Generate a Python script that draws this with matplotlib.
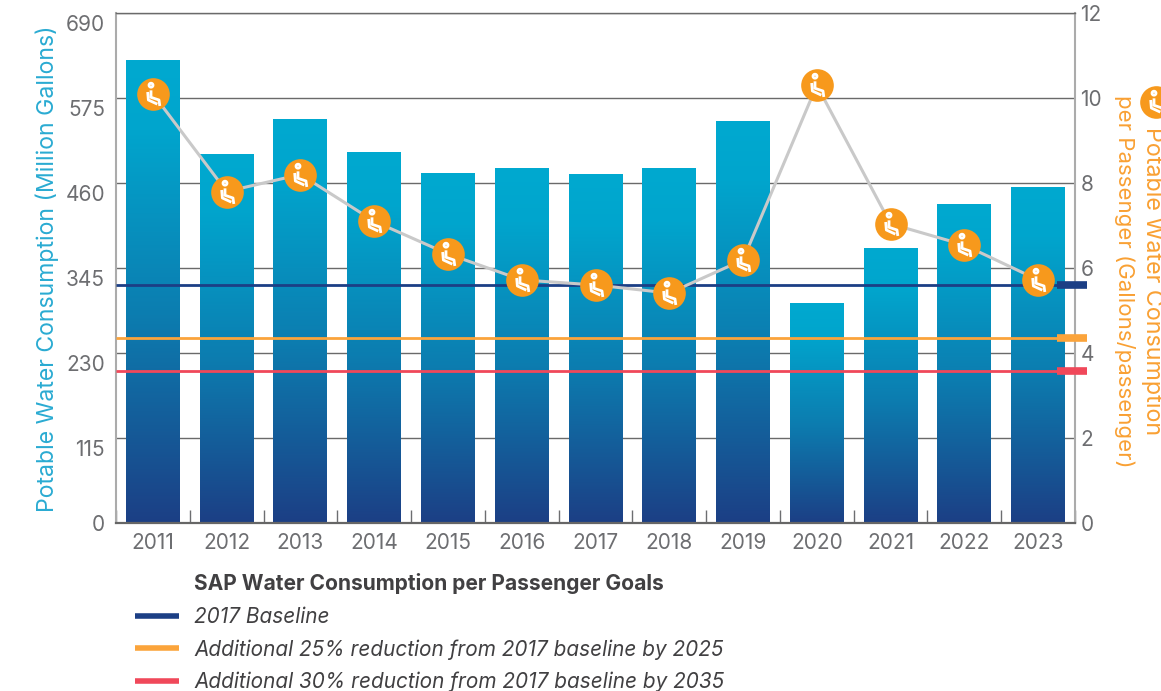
import numpy as np
import matplotlib
matplotlib.use("Agg")
import matplotlib.pyplot as plt
from matplotlib.colors import LinearSegmentedColormap
from matplotlib.lines import Line2D
from matplotlib.path import Path
from matplotlib.transforms import ScaledTranslation

plt.rcParams['font.family'] = ['Inter', 'DejaVu Sans']

# Values
years = ["2011", "2012", "2013", "2014", "2015", "2016", "2017", "2018", "2019", "2020", "2021", "2022", "2023"]
water_million_gal = [626, 499, 547, 502, 474, 480, 472, 480, 544, 298, 372, 432, 455]
gal_per_passenger = [10.1, 7.8, 8.2, 7.1, 6.33, 5.72, 5.6, 5.41, 6.19, 10.3, 7.04, 6.54, 5.72]
left_ticks = [0, 115, 230, 345, 460, 575, 690]
right_ticks = [0, 2, 4, 6, 8, 10, 12]
goal_values = [5.6, 4.35, 3.57]
goal_labels = ["2017 Baseline",
               "Additional 25% reduction from 2017 baseline by 2025",
               "Additional 30% reduction from 2017 baseline by 2035"]

BLUE = "#00A9D0"
NAVY = "#1C3F85"
ORANGE = "#F7991C"
GREY = "#6D6E71"
goal_colors = [NAVY, "#FBA43B", "#F0485A"]

# Passenger in a seat, in units of the circle radius
seat_verts = [(-0.15, 0.25), (-0.15, -0.17), (0.33, -0.33), (0.38, -0.69),
              (-0.35, 0.15), (-0.31, -0.33), (0.23, -0.58)]
seat_codes = [Path.MOVETO, Path.LINETO, Path.LINETO, Path.LINETO,
              Path.MOVETO, Path.LINETO, Path.LINETO]
head = Path.circle((-0.15, 0.56), 0.12)
seat_icon = Path.make_compound_path(Path(seat_verts, seat_codes), head)


def icon_kwargs(scale=1.0):
    return dict(marker=seat_icon, markersize=16.5 * scale, markerfacecolor="none",
                markeredgecolor="white", markeredgewidth=2.0 * scale, linestyle="none")


fig = plt.figure(figsize=(11.61, 6.91), dpi=100)
ax = fig.add_axes([116 / 1161, 1 - 523 / 691, 959 / 1161, 510 / 691])
x = np.arange(len(years))

# Bars with a vertical gradient each
cmap = LinearSegmentedColormap.from_list("bar", [(0, BLUE), (0.15, "#01A5CD"), (0.55, "#0C7DB0"), (1, NAVY)])
gradient = np.linspace(0, 1, 256).reshape(-1, 1)
bars = ax.bar(x, water_million_gal, width=0.73, color=BLUE, zorder=2)
for bar, xi, val in zip(bars, x, water_million_gal):
    im = ax.imshow(gradient, cmap=cmap, aspect="auto", zorder=2.1,
                   extent=[xi - 0.365, xi + 0.365, 0, val])
    im.set_clip_path(bar)

ax.set_xlim(-0.5, 12.5)
ax.set_ylim(0, 690)
ax.set_yticks(left_ticks)
ax.set_xticks(x)
ax.set_xticklabels(years)
ax.set_xticks(np.arange(-0.5, 12.6, 1), minor=True)
ax.tick_params(axis="x", which="major", length=0, pad=7, labelsize=15, labelcolor=GREY)
ax.tick_params(axis="x", which="minor", direction="in", length=9.5, width=1, color=GREY)
ax.tick_params(axis="y", length=0, pad=8, labelsize=15, labelcolor=GREY)
ax.grid(axis="y", color="#6A6A6A", linewidth=1)
ax.set_axisbelow(True)

# Left labels sit a little under their gridlines, except for the zero
for tick, label in zip(left_ticks, ax.get_yticklabels()):
    if tick > 0:
        label.set_transform(label.get_transform() + ScaledTranslation(0, -10 / 100, fig.dpi_scale_trans))

for side in ["top", "left", "right"]:
    ax.spines[side].set_color("#ABABAB")
    ax.spines[side].set_linewidth(1.5)
ax.spines["top"].set_color("#6A6A6A")
ax.spines["top"].set_linewidth(1)
ax.spines["bottom"].set_color("#666666")
ax.spines["bottom"].set_linewidth(1.6)

ax2 = ax.twinx()
ax2.set_ylim(0, 12)
ax2.set_yticks(right_ticks)
ax2.tick_params(axis="y", length=0, pad=4, labelsize=15, labelcolor=GREY)
for side in ["top", "left", "right", "bottom"]:
    ax2.spines[side].set_visible(False)

# Goal lines, with a thick stub over the right axis
for val, col in zip(goal_values, goal_colors):
    ax2.axhline(val, xmin=0, xmax=0.982, color=col, linewidth=2, zorder=3, solid_capstyle="butt")
    ax2.axhline(val, xmin=0.981, xmax=1.012, color=col, linewidth=5.5, zorder=3,
                solid_capstyle="butt", clip_on=False)

# Per passenger line
ax2.plot(x, gal_per_passenger, color="#C9C9C9", linewidth=2.2, zorder=4)
ax2.plot(x, gal_per_passenger, "o", color=ORANGE, markersize=23.5, markeredgewidth=0, zorder=5)
ax2.plot(x, gal_per_passenger, zorder=6, **icon_kwargs())

# Axis titles
fig.text(47 / 1161, 1 - 269 / 691, "Potable Water Consumption (Million Gallons)", rotation=90,
         color="#2AABD2", fontsize=16.6, ha="center", va="center")
fig.text(1152 / 1161, 1 - 281 / 691, "Potable Water Consumption", rotation=270,
         color="#F9A033", fontsize=16.8, ha="center", va="center")
fig.text(1125 / 1161, 1 - 281 / 691, "per Passenger (Gallons/passenger)", rotation=270,
         color="#F9A033", fontsize=16, ha="center", va="center")

# Icon on top of the right title, cut by the edge of the picture
icon_pos = (1156 / 1161, 1 - 102 / 691)
fig.add_artist(Line2D([icon_pos[0]], [icon_pos[1]], transform=fig.transFigure, marker="o",
                      markersize=23.5, markerfacecolor=ORANGE, markeredgewidth=0, linestyle="none"))
fig.add_artist(Line2D([icon_pos[0]], [icon_pos[1]], transform=fig.transFigure, **icon_kwargs()))

# Legend
fig.text(194 / 1161, 1 - 584 / 691, "SAP Water Consumption per Passenger Goals", color="#414042",
         fontsize=15.1, fontweight="bold", ha="left", va="center")
handles = [Line2D([], [], color=c, linewidth=4, solid_capstyle="butt") for c in goal_colors]
leg = fig.legend(handles, goal_labels, loc="upper left", bbox_to_anchor=(135 / 1161, 1 - 607 / 691),
                 frameon=False, fontsize=14.95, labelcolor="#414042", handlelength=2.13,
                 handletextpad=0.72, labelspacing=0.58, borderaxespad=0, borderpad=0)
for text in leg.get_texts():
    text.set_fontstyle("italic")

fig.savefig("out.png", dpi=100)
